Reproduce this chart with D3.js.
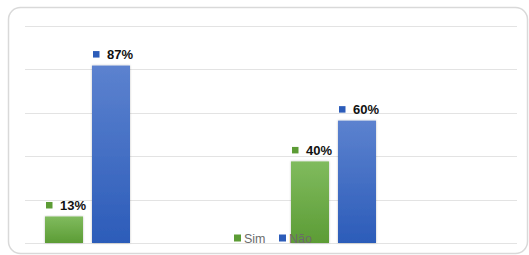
<!DOCTYPE html>
<html>
<head>
<meta charset="utf-8">
<script src="https://cdn.jsdelivr.net/npm/d3@7"></script>
<style>
    body { margin: 0; background: #fff; }
    svg { display: block; font-family: "Liberation Sans", Arial, sans-serif; }
</style>
</head>
<body>
<div class="chart"></div>
<script>
const categories = ["Grupo 1", "Grupo 2"];
const seriesNames = ["Sim", "Não"];
const simValues = [0.13, 0.40];
const naoValues = [0.87, 0.60];
const gridTicks = [0, 0.2128, 0.4256, 0.6384, 0.8512, 1.064];
const seriesColors = { "Sim": ["#80bb5e", "#5c9c35"], "Não": ["#5c82cf", "#2c5cb9"] };

const width = 529, height = 255;
const plot = { left: 25, right: 517, top: 26, bottom: 243 };

const svg = d3.select(".chart").append("svg")
    .attr("width", width)
    .attr("height", height);

const defs = svg.append("defs");
seriesNames.forEach((s, i) => {
    const g = defs.append("linearGradient")
        .attr("id", "grad" + i)
        .attr("x1", 0).attr("y1", 0).attr("x2", 0).attr("y2", 1);
    g.append("stop").attr("offset", "0%").attr("stop-color", seriesColors[s][0]);
    g.append("stop").attr("offset", "100%").attr("stop-color", seriesColors[s][1]);
});
const shadow = defs.append("filter").attr("id", "shadow")
    .attr("x", "-20%").attr("y", "-5%").attr("width", "140%").attr("height", "110%");
shadow.append("feDropShadow").attr("dx", 0).attr("dy", 0).attr("stdDeviation", 1.2)
    .attr("flood-color", "#000").attr("flood-opacity", 0.25);

// chart border
svg.append("rect")
    .attr("x", 8.5).attr("y", 7.5)
    .attr("width", 519).attr("height", 246)
    .attr("rx", 12).attr("ry", 12)
    .attr("fill", "#fff")
    .attr("stroke", "#d9d9d9")
    .attr("stroke-width", 1.5);

const y = d3.scaleLinear()
    .domain([0, gridTicks[gridTicks.length - 1]])
    .range([plot.bottom, plot.top]);

const x0 = d3.scaleBand()
    .domain(categories)
    .range([plot.left, plot.right]);

const x1 = d3.scaleBand()
    .domain(seriesNames)
    .range([20, 105])
    .paddingInner(0.1915);

// gridlines
svg.append("g")
    .selectAll("line")
    .data(gridTicks)
    .join("line")
    .attr("x1", plot.left).attr("x2", plot.right)
    .attr("y1", d => Math.round(y(d)) + 0.5)
    .attr("y2", d => Math.round(y(d)) + 0.5)
    .attr("stroke", "#e3e3e3")
    .attr("stroke-width", 1.2);

const rows = categories.map((c, i) => ({
    category: c,
    values: [
        { series: "Sim", idx: 0, value: simValues[i] },
        { series: "Não", idx: 1, value: naoValues[i] }
    ]
}));

const groups = svg.append("g")
    .selectAll("g")
    .data(rows)
    .join("g")
    .attr("transform", d => `translate(${x0(d.category)},0)`);

groups.selectAll("rect")
    .data(d => d.values)
    .join("rect")
    .attr("x", d => x1(d.series))
    .attr("y", d => y(d.value))
    .attr("width", x1.bandwidth())
    .attr("height", d => y(0) - y(d.value))
    .attr("fill", d => `url(#grad${d.idx})`)
    .attr("filter", "url(#shadow)");

// data labels with legend key
const labels = groups.selectAll("g.lbl")
    .data(d => d.values)
    .join("g")
    .attr("class", "lbl")
    .attr("transform", d => `translate(${x1(d.series) + 1},${y(d.value) - 11})`);

labels.append("rect")
    .attr("x", 0).attr("y", -3.5)
    .attr("width", 6.5).attr("height", 6.5)
    .attr("fill", d => seriesColors[d.series][1]);

labels.append("text")
    .attr("x", 14)
    .attr("y", 0)
    .attr("dy", "0.35em")
    .attr("font-size", 13)
    .attr("font-weight", "bold")
    .attr("fill", "#111")
    .text(d => Math.round(d.value * 100) + "%");

// legend
const legend = svg.append("g")
    .attr("transform", "translate(234,238)");

const legendItems = legend.selectAll("g")
    .data(seriesNames)
    .join("g")
    .attr("transform", (d, i) => `translate(${i * 45},0)`);

legendItems.append("rect")
    .attr("x", 0).attr("y", -3.5)
    .attr("width", 7).attr("height", 7)
    .attr("fill", (d, i) => seriesColors[d][1]);

legendItems.append("text")
    .attr("x", 10)
    .attr("y", 0)
    .attr("dy", "0.36em")
    .attr("font-size", 12.5)
    .attr("fill", "#6b6b6b")
    .text(d => d);
</script>
</body>
</html>
